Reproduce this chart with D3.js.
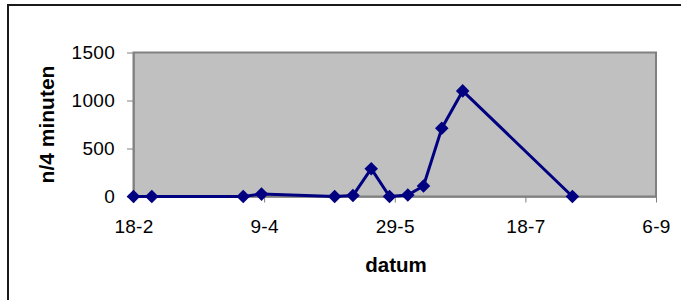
<!DOCTYPE html>
<html>
<head>
<meta charset="utf-8">
<script src="https://cdn.jsdelivr.net/npm/d3@7"></script>
<style>
  html, body { margin: 0; padding: 0; background: #fff; }
  svg { display: block; font-family: "Liberation Sans", Arial, sans-serif; }
</style>
</head>
<body>
<svg id="chart" width="681" height="300"></svg>
<script>
// data
var dates = ["2001-02-18", "2001-02-25", "2001-04-01", "2001-04-08", "2001-05-06",
             "2001-05-13", "2001-05-20", "2001-05-27", "2001-06-03", "2001-06-09",
             "2001-06-16", "2001-06-24", "2001-08-05"];
var counts = [0, 0, 0, 25, 0, 10, 290, 0, 15, 110, 710, 1100, 0];
var xTickDates = ["2001-02-18", "2001-04-09", "2001-05-29", "2001-07-18", "2001-09-06"];
var yTicks = [0, 500, 1000, 1500];

var parse = d3.timeParse("%Y-%m-%d");
var fmt = d3.timeFormat("%-d-%-m");

var svg = d3.select("#chart");
// plot box (window.top is reserved, so use other names)
var plotL = 133.5, plotR = 656, plotT = 52.5, plotB = 196.5;

var x = d3.scaleTime()
  .domain([parse(xTickDates[0]), parse(xTickDates[xTickDates.length - 1])])
  .range([plotL, plotR]);
var y = d3.scaleLinear().domain([0, 1500]).range([plotB, plotT]);

// outer frame
svg.append("rect")
  .attr("x", 8).attr("y", 5)
  .attr("width", 700).attr("height", 320)
  .attr("fill", "none").attr("stroke", "#1a1a1a").attr("stroke-width", 2);

// plot area
svg.append("rect")
  .attr("x", plotL).attr("y", plotT)
  .attr("width", plotR - plotL).attr("height", plotB - plotT)
  .attr("fill", "#c0c0c0").attr("stroke", "#808080").attr("stroke-width", 2);

// y axis
var yAxis = svg.append("g")
  .attr("transform", "translate(" + plotL + ",0)")
  .call(d3.axisLeft(y).tickValues(yTicks).tickFormat(d3.format("d"))
    .tickSize(6.5).tickPadding(12).tickSizeOuter(0));
yAxis.select(".domain").attr("stroke", "#808080").attr("stroke-width", 1.5);
yAxis.selectAll(".tick line").attr("stroke", "#808080");
yAxis.selectAll("text").attr("font-size", 19).attr("fill", "#000")
  .attr("letter-spacing", 0.3)
  .attr("font-family", "Liberation Sans, Arial, sans-serif");

// x axis
var xAxis = svg.append("g")
  .attr("transform", "translate(0," + plotB + ")")
  .call(d3.axisBottom(x).tickValues(xTickDates.map(parse)).tickFormat(fmt)
    .tickSize(6).tickPadding(17.5).tickSizeOuter(0));
xAxis.select(".domain").attr("stroke", "#808080").attr("stroke-width", 1.5);
xAxis.selectAll(".tick line").attr("stroke", "#808080");
xAxis.selectAll("text").attr("font-size", 19).attr("fill", "#000")
  .attr("letter-spacing", 0.3)
  .attr("font-family", "Liberation Sans, Arial, sans-serif");

// axis titles
svg.append("text")
  .attr("x", 396).attr("y", 271.5)
  .attr("text-anchor", "middle")
  .attr("font-size", 20.5).attr("font-weight", "bold")
  .text("datum");

svg.append("text")
  .attr("transform", "translate(54," + ((plotT + plotB) / 2) + ") rotate(-90)")
  .attr("text-anchor", "middle")
  .attr("font-size", 21).attr("font-weight", "bold")
  .text("n/4 minuten");

// series
var pts = dates.map(function(d, i) { return { date: parse(d), value: counts[i] }; });

svg.append("path")
  .datum(pts)
  .attr("fill", "none")
  .attr("stroke", "#000080")
  .attr("stroke-width", 3)
  .attr("stroke-linejoin", "round")
  .attr("d", d3.line().x(function(d) { return x(d.date); }).y(function(d) { return y(d.value); }));

var diamond = d3.symbol().type(d3.symbolSquare).size(92);
svg.append("g").selectAll("path")
  .data(pts)
  .enter().append("path")
  .attr("d", diamond)
  .attr("fill", "#000080")
  .attr("transform", function(d) {
    return "translate(" + x(d.date) + "," + y(d.value) + ") rotate(45)";
  });
</script>
</body>
</html>
